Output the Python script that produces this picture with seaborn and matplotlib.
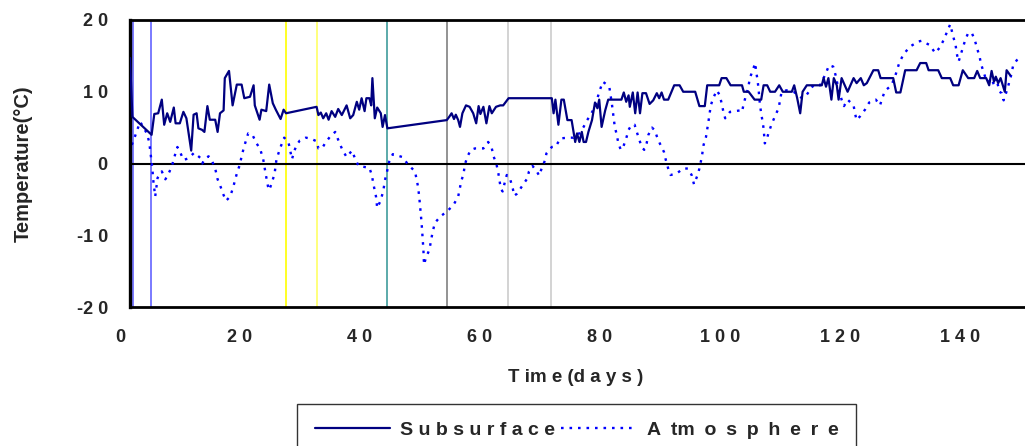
import matplotlib
matplotlib.use("Agg")
import matplotlib.pyplot as plt
import numpy as np
import pandas as pd
import seaborn as sns
from matplotlib.transforms import ScaledTranslation

# Subsurface temperature record (days since start, deg C)
sub_day = [0.0, 0.4, 3.6, 4.05, 4.7, 5.3, 5.7, 6.2, 6.7, 7.3, 7.6, 8.3, 8.9, 9.4, 10.2, 10.6,
           11.1, 11.4, 12.0, 12.4, 12.9, 13.3, 14.2, 14.6, 15.0, 15.6, 15.8, 16.5, 17.1, 17.8,
           18.6, 19.05, 20.0, 20.6, 20.8, 21.6, 21.9, 22.7, 23.2, 23.8, 24.3, 25.1, 25.6, 26.0,
           31.1, 31.4, 31.8, 32.2, 32.7, 33.1, 33.6, 34.2, 34.7, 35.3, 35.8, 36.1, 36.7, 37.2,
           37.8, 38.2, 38.6, 39.1, 39.4, 39.9, 40.2, 40.4, 40.8, 41.2, 41.8, 42.1, 42.5, 42.9,
           52.8, 53.2, 53.6, 54.0, 54.3, 54.7, 55.0, 55.4, 56.0, 56.6, 57.2, 57.7, 58.1, 58.4,
           58.9, 59.4, 59.9, 60.3, 61.0, 61.7, 62.2, 63.1, 70.3, 70.6, 70.9, 71.4, 71.9, 72.3,
           72.9, 73.6, 74.2, 74.5, 74.9, 75.3, 75.6, 76.0, 76.4, 77.0, 77.5, 77.9, 78.2, 78.6,
           79.2, 79.7, 81.9, 82.3, 82.7, 83.1, 83.3, 83.8, 84.2, 84.6, 85.0, 85.4, 86.0, 86.6,
           87.2, 87.8, 88.2, 88.6, 89.0, 89.7, 90.7, 91.6, 92.2, 94.2, 94.9, 95.8, 96.2, 98.2,
           98.6, 99.4, 100.1, 102.0, 102.3, 103.1, 104.1, 105.2, 105.6, 106.2, 106.7, 107.5,
           108.2, 108.8, 110.3, 110.7, 111.2, 111.7, 112.1, 112.8, 115.3, 115.6, 116.0, 116.4,
           116.9, 117.3, 117.8, 118.1, 118.6, 119.6, 120.6, 121.1, 121.8, 122.3, 122.8, 123.9,
           124.7, 125.1, 127.2, 127.7, 128.4, 129.2, 131.1, 131.7, 132.7, 133.1, 134.7, 135.3,
           136.7, 137.2, 138.1, 138.8, 139.7, 140.7, 141.2, 141.7, 142.7, 143.2, 143.6, 144.0,
           144.3, 144.7, 145.1, 145.8, 146.1, 146.7]
sub_temp = [14.7, 6.5, 4.0, 6.9, 7.0, 8.9, 5.4, 7.0, 5.8, 7.8, 5.6, 5.6, 7.2, 6.3, 1.8, 6.8,
            7.0, 4.9, 4.7, 4.4, 8.0, 6.1, 6.1, 4.4, 7.0, 7.4, 11.9, 12.9, 8.1, 11.0,
            11.0, 9.1, 9.3, 10.9, 8.1, 6.1, 7.5, 7.3, 11.0, 8.4, 7.5, 6.2, 7.5, 7.0,
            7.9, 6.75, 7.1, 6.3, 7.0, 6.1, 7.3, 6.5, 7.6, 6.75, 7.6, 8.1, 6.3, 6.75,
            8.6, 7.5, 9.1, 7.3, 9.1, 9.1, 8.1, 11.9, 6.3, 7.8, 7.0, 5.1, 6.75, 4.9,
            6.05, 6.5, 7.0, 6.2, 6.8, 6.05, 5.1, 7.0, 8.1, 7.9, 7.0, 5.6, 8.0, 6.9,
            7.9, 5.6, 8.0, 7.0, 7.9, 8.1, 8.1, 9.1, 9.1, 7.0, 8.9, 5.4, 8.9, 8.9,
            6.05, 6.05, 3.0, 4.2, 3.0, 4.4, 3.0, 3.0, 4.4, 6.05, 8.5, 7.7, 8.9, 5.1,
            7.4, 8.9, 8.9, 9.9, 8.6, 9.5, 7.9, 9.9, 7.0, 9.9, 7.0, 9.8, 9.8, 8.3,
            8.8, 9.8, 9.1, 9.9, 8.9, 8.9, 10.9, 10.9, 10.0, 10.0, 8.0, 8.0, 10.9, 10.9,
            11.9, 11.9, 10.9, 10.9, 10.0, 10.0, 8.9, 8.9, 10.9, 10.9, 10.0, 10.0,
            10.9, 10.0, 10.0, 10.9, 9.1, 7.0, 10.0, 10.9, 10.9, 11.9, 10.7, 11.9,
            8.9, 11.9, 10.9, 8.9, 11.9, 10.0, 11.9, 11.2, 11.9, 10.9, 11.2, 13.0,
            13.0, 11.9, 11.9, 9.9, 9.9, 13.0, 13.0, 14.0, 14.0, 13.0, 13.0, 11.9,
            11.9, 10.9, 10.9, 13.0, 11.9, 11.9, 12.9, 11.9, 11.9, 10.9, 12.9, 11.4,
            12.1, 11.2, 11.9, 10.0, 13.0, 12.3]

# Air temperature record (days since start, deg C)
atm_day = [0.3, 0.8, 1.3, 1.7, 2.2, 2.8, 3.2, 3.5, 3.7, 3.9, 4.2, 4.6, 5.3, 5.9, 6.6, 7.1,
           7.5, 7.9, 8.4, 8.9, 9.7, 10.7, 11.7, 12.05, 12.5, 13.1, 13.6, 14.2, 14.6, 15.0,
           15.5, 16.0, 16.7, 17.2, 17.9, 18.3, 18.6, 19.0, 19.7, 20.4, 21.1, 21.7, 22.2, 22.6,
           23.0, 23.2, 23.6, 24.1, 24.4, 25.0, 25.7, 26.4, 27.0, 27.4, 27.8, 28.3, 29.3, 30.0,
           31.1, 31.4, 32.0, 32.5, 33.3, 34.2, 34.7, 35.4, 36.1, 37.0, 37.5, 38.1, 39.9, 40.3,
           40.6, 41.0, 41.2, 41.7, 42.2, 42.5, 42.9, 43.2, 43.8, 45.4, 46.4, 47.5, 48.0, 48.2,
           48.4, 48.6, 48.8, 48.9, 49.0, 49.3, 49.9, 50.4, 50.8, 51.7, 52.8, 53.9, 54.7, 55.2,
           55.6, 55.8, 56.2, 56.8, 57.5, 58.9, 59.7, 60.3, 60.6, 61.1, 61.4, 61.8, 62.1, 62.5,
           62.8, 63.4, 63.8, 64.05, 64.5, 65.3, 66.2, 66.5, 67.1, 67.8, 68.2, 68.6, 69.2, 69.4,
           70.3, 71.0, 71.7, 73.1, 73.9, 74.4, 74.9, 75.6, 76.2, 76.9, 77.5, 77.9, 78.3, 78.8,
           79.3, 79.9, 80.3, 80.6, 80.8, 81.1, 81.4, 81.8, 82.2, 82.7, 83.1, 83.6, 84.1, 84.4,
           84.8, 85.3, 85.7, 86.1, 86.4, 87.0, 87.5, 87.8, 88.3, 89.0, 89.3, 89.7, 90.1, 91.1,
           92.2, 93.0, 93.6, 94.0, 94.6, 94.9, 95.3, 95.6, 96.0, 96.4, 96.8, 97.2, 97.8, 98.3,
           98.6, 98.9, 99.2, 100.0, 101.7, 102.0, 102.3, 103.05, 103.3, 103.8, 104.2, 104.4,
           104.6, 104.8, 105.0, 105.3, 105.6, 105.8, 106.1, 106.4, 106.9, 107.5, 108.1, 108.6,
           109.4, 110.6, 112.0, 112.8, 113.9, 115.0, 116.0, 116.5, 117.2, 117.6, 118.0, 118.6,
           119.0, 119.6, 120.6, 120.8, 121.1, 121.7, 122.5, 123.2, 124.3, 125.0, 125.3, 125.8,
           126.9, 127.5, 128.2, 128.9, 130.0, 131.4, 131.9, 133.3, 134.2, 135.0, 135.6, 136.2,
           136.7, 137.2, 137.6, 137.8, 138.1, 138.5, 139.2, 139.7, 140.3, 140.8, 141.2, 141.6,
           141.8, 142.2, 142.6, 143.1, 143.6, 144.0, 144.4, 144.9, 145.3, 145.6, 146.0, 146.4,
           146.8, 147.2, 147.8, 148.3]
atm_temp = [2.6, 3.7, 4.9, 5.8, 5.1, 4.2, 3.0, 0.9, -0.5, -2.5, -4.6, -2.0, -1.1, -2.2, -1.1, 0.0,
            1.2, 2.3, 1.5, 0.5, 0.7, 1.5, 0.8, 0.0, 0.7, 1.0, 0.5, -0.7, -2.2, -3.0,
            -4.2, -5.2, -4.6, -3.3, -1.1, -0.2, 1.0, 2.3, 4.2, 4.0, 2.8, 2.0, 0.6, -1.4,
            -3.2, -3.7, -2.8, -1.4, 0.5, 2.1, 3.6, 3.0, 0.6, 1.8, 2.6, 3.2, 3.6, 3.5,
            3.1, 2.1, 2.1, 2.8, 3.7, 4.4, 3.3, 1.9, 0.9, 1.8, 0.7, -0.35, -0.6, -1.6,
            -3.0, -4.6, -6.2, -5.3, -3.9, -2.3, -0.9, 0.25, 1.3, 0.9, -0.2, -1.1, -3.2, -4.6,
            -6.5, -8.3, -10.9, -12.0, -14.1, -13.2, -12.0, -9.7, -8.3, -7.4, -6.7, -5.8, -4.6, -2.5,
            -1.4, -0.2, 0.9, 1.9, 2.1, 2.1, 3.0, 2.1, 1.0, -0.2, -1.4, -3.5, -3.9, -2.5,
            -1.6, -2.3, -3.5, -4.5, -4.2, -3.2, -2.1, -1.1, -0.35, -1.1, -1.7, -0.7, 0.5, 1.4,
            2.3, 2.4, 3.5, 3.6, 3.6, 4.0, 4.2, 5.1, 6.05, 7.0, 7.9, 9.1, 10.2, 11.4,
            11.1, 10.6, 8.4, 6.4, 5.1, 4.1, 2.8, 1.9, 2.3, 3.5, 4.7, 5.4, 5.4, 4.6,
            3.5, 2.3, 1.9, 2.8, 4.0, 5.0, 4.6, 3.8, 2.8, 1.6, 0.5, -0.7, -1.6, -1.4,
            -0.7, -0.7, -1.6, -2.9, -1.6, -0.7, 0.9, 2.6, 3.7, 5.8, 8.1, 9.1, 10.2, 9.5,
            8.4, 7.2, 6.3, 7.2, 7.4, 7.2, 8.4, 10.6, 11.9, 13.0, 14.0, 12.6,
            11.6, 10.0, 8.1, 6.5, 4.9, 2.8, 3.3, 4.2, 5.4, 6.6, 7.7, 10.0,
            10.2, 10.0, 9.1, 9.6, 10.9, 10.9, 12.6, 13.7, 13.5, 12.3, 10.7, 8.9,
            8.0, 8.9, 8.1, 7.1, 6.05, 6.6, 7.5, 8.5, 8.9, 8.1, 8.9, 10.1,
            10.9, 12.1, 14.0, 15.2, 16.3, 17.0, 17.1, 16.5, 15.4, 16.2, 17.2, 18.4,
            19.4, 17.7, 16.5, 15.3, 14.2, 15.3, 17.2, 18.2, 18.2, 17.2, 16.0, 14.9,
            14.0, 12.9, 11.9, 11.4, 11.9, 10.9, 11.9, 10.0, 9.8, 8.8, 9.8, 10.9,
            12.1, 13.7, 14.4, 14.7]

# Event markers (day, line colour)
event_day = [0.55, 3.45, 26.05, 31.1, 42.9, 52.8, 63.0, 70.2]
event_color = ["#6464ff", "#6464ff", "#ffff00", "#ffff66", "#3f9c9c", "#808080", "#cccccc", "#cccccc"]

x_ticks = [0, 20, 40, 60, 80, 100, 120, 140]
x_tick_labels = ["0", "2 0", "4 0", "6 0", "8 0", "1 0 0", "1 2 0", "1 4 0"]
y_ticks = [-20, -10, 0, 10, 20]
y_tick_labels = ["-2 0", "-1 0", "0", "1 0", "2 0"]
series_labels = ["S u b s u r f a c e", "A\u2002tm\u2002o\u2002s\u2002p\u2002h\u2002e\u2002r\u2002e"]

sns.set_style("white")
plt.rcParams["font.family"] = ["Liberation Sans", "DejaVu Sans"]
plt.rcParams["font.weight"] = "bold"
plt.rcParams["axes.labelweight"] = "bold"

W, H = 1025, 446
fig = plt.figure(figsize=(W / 100, H / 100), dpi=100)
ax = fig.add_axes([130 / W, 1 - 307 / H, 900 / W, 287 / H])

for d, c in zip(event_day, event_color):
    ax.axvline(d, color=c, lw=1.2, zorder=1)
ax.axhline(0, color="black", lw=1.5, zorder=1.5)

sub = pd.DataFrame({"day": sub_day, "temp": sub_temp})
atm = pd.DataFrame({"day": atm_day, "temp": atm_temp})
sns.lineplot(data=sub, x="day", y="temp", ax=ax, color="#000080", lw=1.6,
             estimator=None, sort=False, legend=False, zorder=3)
sub_line = ax.lines[-1]
sns.lineplot(data=atm, x="day", y="temp", ax=ax, color="#0000ff", lw=1.7,
             estimator=None, sort=False, legend=False, zorder=2.5)
atm_line = ax.lines[-1]
atm_line.set_linestyle((0, (1.1, 2.5)))

ax.set_xlim(0, 150)
ax.set_ylim(-20, 20)
ax.set_xticks(x_ticks)
ax.set_xticklabels(x_tick_labels, fontsize=13, fontweight="bold")
ax.set_xticks(np.arange(10, 150, 20), minor=True)
ax.set_yticks(y_ticks)
ax.set_yticklabels(y_tick_labels, fontsize=13, fontweight="bold")
ax.set_yticks(np.arange(-15, 20, 10), minor=True)
ax.tick_params(axis="x", which="major", direction="in", length=4.2, width=1, color="#222222", pad=16)
ax.tick_params(axis="x", which="minor", direction="in", length=3, width=1, color="#222222")
ax.tick_params(axis="y", which="both", direction="in", length=3.6, width=1, color="#666666", pad=16)
shift = ScaledTranslation(-10 / 100, 0, fig.dpi_scale_trans)
for lab in ax.get_xticklabels():
    lab.set_transform(lab.get_transform() + shift)

for side in ("left", "bottom", "top"):
    ax.spines[side].set_color("black")
ax.spines["left"].set_linewidth(2.4)
ax.spines["bottom"].set_linewidth(2.0)
ax.spines["top"].set_linewidth(2.0)
ax.spines["right"].set_visible(False)

ax.set_ylabel("Temperature(°C)", fontsize=14.5, fontweight="bold")
ax.yaxis.set_label_coords((33 - 130) / 900, 0.5)
ax.set_xlabel("T im e (d a y s )", fontsize=13.5, fontweight="bold")
ax.xaxis.set_label_coords((576 - 130) / 900, (307 - 369) / 287)

leg = fig.legend([sub_line, atm_line], series_labels, loc="upper left",
                 bbox_to_anchor=(297 / W, 1 - 404 / H, 559 / W, 0.0), mode="expand",
                 ncol=2, frameon=True, fancybox=False, edgecolor="black",
                 prop={"size": 14, "weight": "bold"},
                 handlelength=3.9, handletextpad=0.5, columnspacing=0.3,
                 borderpad=0.9, borderaxespad=0)
leg.get_frame().set_linewidth(1.0)

fig.savefig("out.png", dpi=100)
